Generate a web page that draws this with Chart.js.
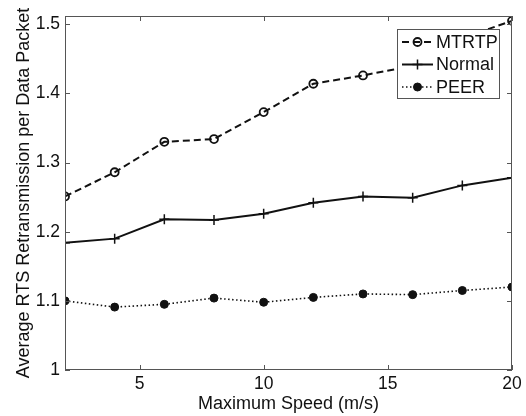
<!DOCTYPE html>
<html>
<head>
<meta charset="utf-8">
<script src="https://cdn.jsdelivr.net/npm/chart.js@4/dist/chart.umd.min.js"></script>
<style>
	html, body { margin: 0; padding: 0; background: #fff; }
	#wrap { width: 526px; height: 416px; }
</style>
</head>
<body>
<div id="wrap"><canvas id="rtsChart" width="526" height="416"></canvas></div>
<script>
var speedValues = [2, 4, 6, 8, 10, 12, 14, 16, 18, 20];
var mtrtpValues = [1.251, 1.286, 1.330, 1.334, 1.373, 1.414, 1.426, 1.440, 1.480, 1.505];
var normalValues = [1.184, 1.190, 1.218, 1.217, 1.226, 1.242, 1.251, 1.249, 1.267, 1.278];
var peerValues = [1.100, 1.091, 1.095, 1.104, 1.098, 1.105, 1.110, 1.109, 1.115, 1.120];

var seriesLabels = ['MTRTP', 'Normal', 'PEER'];
var xTicks = [5, 10, 15, 20];
var yTicks = [1, 1.1, 1.2, 1.3, 1.4, 1.5];
var yTickLabels = ['1', '1.1', '1.2', '1.3', '1.4', '1.5'];

var FONT = '"Liberation Sans", Arial, Helvetica, sans-serif';
var INK = '#111';
var AXIS = '#555';

function toPoints(values) {
	var points = new Array();
	values.forEach(function(v, i) {
		points.push({ x: speedValues[i], y: v });
	});
	return points;
}

// line look of each series, shared by the datasets and the legend box
var seriesStyles = [
	{ dash: [7, 4], width: 2, point: 'circle', radius: 4, fill: 'rgba(0,0,0,0)', pointWidth: 1.8 },
	{ dash: [], width: 2, point: 'cross', radius: 5, fill: INK, pointWidth: 1.5 },
	{ dash: [1.5, 2.5], width: 1.6, point: 'circle', radius: 4, fill: INK, pointWidth: 1 }
];

function makeDataset(index, values) {
	var s = seriesStyles[index];
	return {
		label: seriesLabels[index],
		data: toPoints(values),
		borderColor: INK,
		backgroundColor: INK,
		borderWidth: s.width,
		borderDash: s.dash,
		tension: 0,
		fill: false,
		pointStyle: s.point,
		pointRadius: s.radius,
		pointHoverRadius: s.radius,
		pointBackgroundColor: s.fill,
		pointBorderColor: INK,
		pointBorderWidth: s.pointWidth
	};
}

// matlab style frame with inward ticks, plus the boxed legend on top
var framePlugin = {
	id: 'frame',
	afterDraw: function(chart) {
		var ctx = chart.ctx;
		var a = chart.chartArea;
		var xs = chart.scales.x;
		var ys = chart.scales.y;
		var tl = 5;

		ctx.save();
		ctx.strokeStyle = AXIS;
		ctx.lineWidth = 1;
		ctx.setLineDash([]);
		ctx.strokeRect(a.left + 0.5, a.top + 0.5, a.right - a.left - 1, a.bottom - a.top - 1);

		ctx.beginPath();
		xTicks.forEach(function(v) {
			var px = Math.round(xs.getPixelForValue(v)) + 0.5;
			ctx.moveTo(px, a.bottom);
			ctx.lineTo(px, a.bottom - tl);
			ctx.moveTo(px, a.top);
			ctx.lineTo(px, a.top + tl);
		});
		yTicks.forEach(function(v) {
			var py = Math.round(ys.getPixelForValue(v)) + 0.5;
			ctx.moveTo(a.left, py);
			ctx.lineTo(a.left + tl, py);
			ctx.moveTo(a.right, py);
			ctx.lineTo(a.right - tl, py);
		});
		ctx.stroke();

		// legend box
		var bw = 103, bh = 70;
		var bx = a.right - 12 - bw;
		var by = a.top + 13;
		ctx.fillStyle = '#fff';
		ctx.fillRect(bx, by, bw, bh);
		ctx.strokeStyle = AXIS;
		ctx.strokeRect(bx + 0.5, by + 0.5, bw - 1, bh - 1);

		ctx.font = '18px ' + FONT;
		ctx.textBaseline = 'middle';
		ctx.textAlign = 'left';
		seriesLabels.forEach(function(label, i) {
			var s = seriesStyles[i];
			var ly = by + 13 + i * 22.5;
			var x0 = bx + 5, x1 = bx + 36, mx = (x0 + x1) / 2;

			ctx.strokeStyle = INK;
			ctx.lineWidth = s.width;
			ctx.setLineDash(s.dash);
			ctx.beginPath();
			ctx.moveTo(x0, ly);
			ctx.lineTo(x1, ly);
			ctx.stroke();
			ctx.setLineDash([]);

			ctx.lineWidth = s.pointWidth;
			ctx.beginPath();
			if (s.point == 'cross') {
				ctx.moveTo(mx - s.radius, ly);
				ctx.lineTo(mx + s.radius, ly);
				ctx.moveTo(mx, ly - s.radius);
				ctx.lineTo(mx, ly + s.radius);
				ctx.stroke();
			} else {
				ctx.arc(mx, ly, s.radius, 0, Math.PI * 2);
				ctx.fillStyle = s.fill;
				ctx.fill();
				ctx.stroke();
			}

			ctx.fillStyle = INK;
			ctx.fillText(label, bx + 39, ly + 1);
		});
		ctx.restore();
	}
};

var rtsConfig = {
	type: 'line',
	data: {
		datasets: [
			makeDataset(0, mtrtpValues),
			makeDataset(1, normalValues),
			makeDataset(2, peerValues)
		]
	},
	options: {
		responsive: false,
		animation: false,
		events: [],
		layout: {
			padding: { left: 0, right: 14, top: 16, bottom: 0 }
		},
		plugins: {
			legend: { display: false },
			tooltip: { enabled: false }
		},
		scales: {
			x: {
				type: 'linear',
				min: 2,
				max: 20,
				grid: { display: false, drawTicks: false },
				border: { display: false },
				afterBuildTicks: function(scale) {
					scale.ticks = xTicks.map(function(v) { return { value: v }; });
				},
				afterFit: function(scale) {
					scale.height = 46;
				},
				ticks: {
					padding: 4,
					color: INK,
					font: { family: FONT, size: 17.5 },
					maxRotation: 0
				},
				title: {
					display: true,
					text: 'Maximum Speed (m/s)',
					color: INK,
					font: { family: FONT, size: 18 },
					padding: { top: 0, bottom: 1 }
				}
			},
			y: {
				min: 1,
				max: 1.512,
				grid: { display: false, drawTicks: false },
				border: { display: false },
				afterBuildTicks: function(scale) {
					scale.ticks = yTicks.map(function(v) { return { value: v }; });
				},
				afterFit: function(scale) {
					scale.width = 65;
				},
				ticks: {
					padding: 5,
					color: INK,
					font: { family: FONT, size: 17.5 },
					callback: function(value, index) {
						return yTickLabels[index];
					}
				},
				title: {
					display: true,
					text: 'Average RTS Retransmission per Data Packet',
					color: INK,
					font: { family: FONT, size: 18 },
					padding: { top: 13, bottom: 0 }
				}
			}
		}
	},
	plugins: [framePlugin]
};

var rtsChart = new Chart(document.getElementById('rtsChart'), rtsConfig);
</script>
</body>
</html>
